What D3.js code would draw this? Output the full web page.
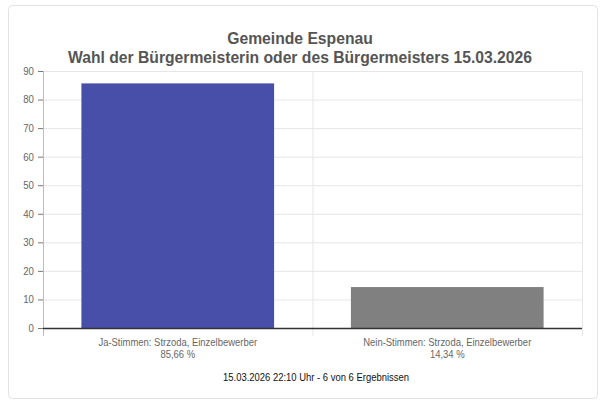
<!DOCTYPE html>
<html><head><meta charset="utf-8">
<script src="https://cdn.jsdelivr.net/npm/d3@7"></script>
<style>body{margin:0;background:#fff}</style>
</head><body>
<svg id="c" width="605" height="408" font-family="Liberation Sans, Arial, sans-serif"></svg>
<script>
const categories = ["Ja-Stimmen: Strzoda, Einzelbewerber", "Nein-Stimmen: Strzoda, Einzelbewerber"];
const percentLabels = ["85,66 %", "14,34 %"];
const values = [85.66, 14.34];
const colors = ["#474fa8", "#808080"];
const yTicks = [0,10,20,30,40,50,60,70,80,90];
const titleLines = ["Gemeinde Espenau", "Wahl der Bürgermeisterin oder des Bürgermeisters 15.03.2026"];
const footer = "15.03.2026 22:10 Uhr - 6 von 6 Ergebnissen";

function squeeze(f){ return sel => sel.each(function(){ const w=this.getComputedTextLength(); d3.select(this).attr("textLength",w*f).attr("lengthAdjust","spacingAndGlyphs"); }); }

const svg = d3.select("#c");
svg.append("rect").attr("x",8.5).attr("y",5.5).attr("width",589).attr("height",393).attr("rx",4)
  .attr("fill","#fff").attr("stroke","#e2e2e2");
const L=43,R=582,T=71,B=328;
const x = d3.scaleBand().domain(categories).range([L,R]).paddingInner(0).paddingOuter(0);
const y = d3.scaleLinear().domain([0,90]).range([B,T]);

svg.selectAll(".t").data(titleLines).enter().append("text")
  .attr("x",300).attr("y",(d,i)=>44+i*19).attr("text-anchor","middle")
  .attr("font-size",16).attr("font-weight","bold").attr("fill","#555").text(d=>d).call(squeeze(0.98));

svg.append("g").selectAll("line").data(yTicks).enter().append("line")
  .attr("x1",L).attr("x2",R).attr("y1",d=>y(d)+.5).attr("y2",d=>y(d)+.5).attr("stroke","#e6e6e6");
const vx=[L, x(categories[1]), R];
svg.append("g").selectAll("line").data(vx).enter().append("line")
  .attr("x1",d=>d+.5).attr("x2",d=>d+.5).attr("y1",T).attr("y2",B+8).attr("stroke","#e6e6e6");

const bw = x.bandwidth()*0.715;
svg.selectAll(".bar").data(values).enter().append("rect")
  .attr("x",(d,i)=>x(categories[i])+(x.bandwidth()-bw)/2).attr("width",bw)
  .attr("y",d=>y(d)).attr("height",d=>B-y(d)).attr("fill",(d,i)=>colors[i]);

svg.append("line").attr("x1",L+.5).attr("x2",L+.5).attr("y1",T).attr("y2",B+8).attr("stroke","#bbb");
const ya=svg.append("g").attr("transform",`translate(${L},0)`).call(d3.axisLeft(y).tickValues(yTicks).tickSize(5).tickPadding(4));
ya.select(".domain").remove();
ya.selectAll("line").attr("stroke","#777");
ya.selectAll("text").attr("font-size",10.5).attr("fill","#666").attr("font-family","Liberation Sans, Arial").call(squeeze(0.92));
svg.append("line").attr("x1",L).attr("x2",R).attr("y1",B+.5).attr("y2",B+.5).attr("stroke","#333").attr("stroke-width",1.5);

categories.forEach((c,i)=>{
  const cx=x(c)+x.bandwidth()/2;
  svg.append("text").attr("x",cx).attr("y",346).attr("text-anchor","middle").attr("font-size",10.5).attr("fill","#666").text(c).call(squeeze(0.9));
  svg.append("text").attr("x",cx).attr("y",358).attr("text-anchor","middle").attr("font-size",10.5).attr("fill","#666").text(percentLabels[i]).call(squeeze(0.9));
});
svg.append("text").attr("x",316).attr("y",381).attr("text-anchor","middle").attr("font-size",10.5).attr("fill","#111").text(footer).call(squeeze(0.9));
</script></body></html>
